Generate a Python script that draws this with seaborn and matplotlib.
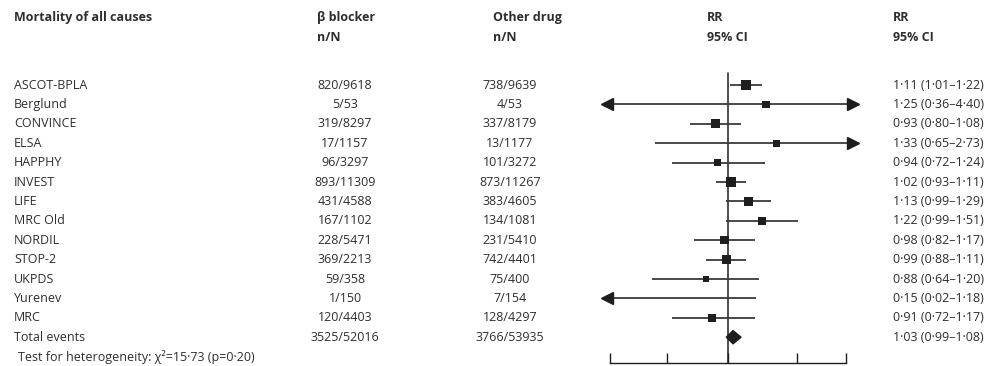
import numpy as np
import pandas as pd
import matplotlib
matplotlib.use("Agg")
import matplotlib.pyplot as plt
import matplotlib.transforms as mtransforms
from matplotlib.patches import Polygon
import seaborn as sns

# ---- data -------------------------------------------------------------
studies = ["ASCOT-BPLA", "Berglund", "CONVINCE", "ELSA", "HAPPHY", "INVEST",
           "LIFE", "MRC Old", "NORDIL", "STOP-2", "UKPDS", "Yurenev", "MRC"]
bb_events = [820, 5, 319, 17, 96, 893, 431, 167, 228, 369, 59, 1, 120]
bb_total = [9618, 53, 8297, 1157, 3297, 11309, 4588, 1102, 5471, 2213, 358, 150, 4403]
other_events = [738, 4, 337, 13, 101, 873, 383, 134, 231, 742, 75, 7, 128]
other_total = [9639, 53, 8179, 1177, 3272, 11267, 4605, 1081, 5410, 4401, 400, 154, 4297]
rr = [1.11, 1.25, 0.93, 1.33, 0.94, 1.02, 1.13, 1.22, 0.98, 0.99, 0.88, 0.15, 0.91]
ci_low = [1.01, 0.36, 0.80, 0.65, 0.72, 0.93, 0.99, 0.99, 0.82, 0.88, 0.64, 0.02, 0.72]
ci_high = [1.22, 4.40, 1.08, 2.73, 1.24, 1.11, 1.29, 1.51, 1.17, 1.11, 1.20, 1.18, 1.17]
weights = [8, 5, 7, 5, 5, 8, 7, 6, 6, 7, 4, 3, 6]

total_label = "Total events"
total_bb = (3525, 52016)
total_other = (3766, 53935)
total_rr, total_lo, total_hi = 1.03, 0.99, 1.08
heterogeneity = "Test for heterogeneity: χ²=15·73 (p=0·20)"

x_ticks = [0.5, 0.7, 1.0, 1.5, 2.0]
x_clip = (0.49, 2.09)

# ---- style ------------------------------------------------------------
sns.set_style("white")
plt.rcParams["font.family"] = ["Open Sans", "DejaVu Sans"]
ink = "#1e1e1e"
txt = "#2e2e2e"
fs = 9.0

W, H = 1000, 366
fig = plt.figure(figsize=(W / 100, H / 100), dpi=100)

row_top, row_step = 85, 19.4
ax_left, ax_right, ax_top, ax_bottom = 590, 870, 60, 363
ax = fig.add_axes([ax_left / W, 1 - ax_bottom / H,
                   (ax_right - ax_left) / W, (ax_bottom - ax_top) / H])
ax.set_xscale("log")
px_per_ln = 170.0
ax.set_xlim(np.exp((ax_left - 728) / px_per_ln), np.exp((ax_right - 728) / px_per_ln))
ax.set_ylim((ax_bottom - row_top) / row_step, (ax_top - row_top) / row_step)
ax.patch.set_alpha(0)

df = pd.DataFrame({"study": studies, "rr": rr, "lo": ci_low, "hi": ci_high,
                   "w": weights, "row": np.arange(len(studies))})

# confidence intervals, with arrows where they run past the axis
for _, r in df.iterrows():
    lo = max(r.lo, x_clip[0])
    hi = min(r.hi, x_clip[1])
    ax.plot([lo, hi], [r.row, r.row], color="#3a3a3a", lw=1.3, zorder=2,
            solid_capstyle="butt")
    if r.lo < x_clip[0]:
        ax.plot(lo, r.row, marker="<", ms=9, color=ink, zorder=3)
    if r.hi > x_clip[1]:
        ax.plot(hi, r.row, marker=">", ms=9, color=ink, zorder=3)

# point estimates as weighted squares
vis = df[(df.rr >= x_clip[0]) & (df.rr <= x_clip[1])]
sns.scatterplot(data=vis, x="rr", y="row", size="w", sizes=(20, 50),
                marker="s", color=ink, edgecolor=ink, linewidth=0,
                legend=False, ax=ax, zorder=4)

# pooled estimate
yt = len(studies)
diamond = Polygon([(total_lo, yt), (total_rr, yt - 0.34), (total_hi, yt),
                   (total_rr, yt + 0.34)], closed=True, color=ink, zorder=4)
ax.add_patch(diamond)

# line of no effect
ax.plot([1, 1], [(73 - row_top) / row_step, ax.get_ylim()[0]], color=ink,
        lw=1.1, zorder=1)

# bottom axis
for s in ["top", "right", "left"]:
    ax.spines[s].set_visible(False)
ax.spines["bottom"].set_bounds(x_ticks[0], x_ticks[-1])
ax.spines["bottom"].set_color(ink)
ax.spines["bottom"].set_linewidth(1.0)
ax.set_xticks(x_ticks)
ax.xaxis.set_minor_locator(matplotlib.ticker.NullLocator())
ax.tick_params(axis="x", direction="in", length=7, width=1.0, color=ink,
               labelbottom=False, bottom=True)
ax.set_yticks([])
ax.set_xlabel("")
ax.set_ylabel("")

# ---- text columns -----------------------------------------------------
tr = mtransforms.blended_transform_factory(fig.transFigure, ax.transData)


def put(xpix, row, s, ha="left", bold=False):
    ax.text(xpix / W, row, s, transform=tr, ha=ha, va="center", fontsize=fs,
            color=txt, fontweight="bold" if bold else "normal", clip_on=False)


def dot(v):
    return f"{v:.2f}".replace(".", "·")


h1 = (17 - row_top) / row_step
h2 = (37 - row_top) / row_step
put(14, h1, "Mortality of all causes", bold=True)
put(317, h1, "β blocker", bold=True)
put(317, h2, "n/N", bold=True)
put(493, h1, "Other drug", bold=True)
put(493, h2, "n/N", bold=True)
put(707, h1, "RR", bold=True)
put(707, h2, "95% CI", bold=True)
put(893, h1, "RR", bold=True)
put(893, h2, "95% CI", bold=True)

for i, name in enumerate(studies):
    put(14, i, name)
    put(345, i, f"{bb_events[i]}/{bb_total[i]}", ha="center")
    put(510, i, f"{other_events[i]}/{other_total[i]}", ha="center")
    put(893, i, f"{dot(rr[i])} ({dot(ci_low[i])}–{dot(ci_high[i])})")

put(14, yt, total_label)
put(345, yt, f"{total_bb[0]}/{total_bb[1]}", ha="center")
put(510, yt, f"{total_other[0]}/{total_other[1]}", ha="center")
put(893, yt, f"{dot(total_rr)} ({dot(total_lo)}–{dot(total_hi)})")
put(18, yt + 1, heterogeneity)

fig.savefig("out.png", dpi=100)
